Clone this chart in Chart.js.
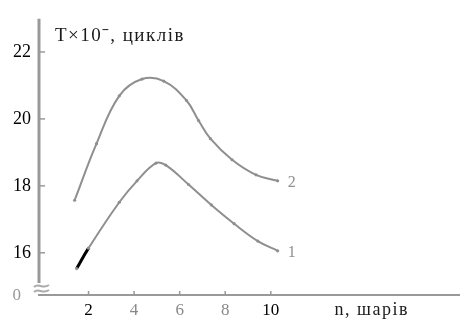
<!DOCTYPE html>
<html>
<head>
<meta charset="utf-8">
<script src="https://cdn.jsdelivr.net/npm/chart.js@4/dist/chart.umd.min.js"></script>
<style>
  html, body { margin: 0; padding: 0; background: #fff; }
  #wrap { width: 463px; height: 320px; }
</style>
</head>
<body>
<div id="wrap"><canvas id="myChart" width="463" height="320"></canvas></div>
<script>
// datos (n = numero de capas, T = ciclos x10^3)
const n1 = [1.48, 2.0, 3.35, 4.13, 4.96, 5.39, 6.39, 7.39, 8.39, 9.43, 10.3];
const t1 = [15.53, 16.14, 17.51, 18.15, 18.68, 18.62, 18.04, 17.43, 16.87, 16.35, 16.06];
const n2 = [1.39, 2.35, 3.35, 4.35, 5.3, 6.3, 6.83, 7.35, 8.3, 9.35, 10.3];
const t2 = [17.57, 19.26, 20.69, 21.19, 21.13, 20.55, 19.95, 19.41, 18.78, 18.33, 18.15];
const xTicks = [2, 4, 6, 8, 10];
const yTicks = [16, 18, 20, 22];
const curveNames = ["1", "2"];
const yTitle = "T\u00d710\u02c9, циклів";
const xTitle = "n, шарів";

const grey = "#8f8f8f";
const serif = "'Liberation Serif', 'DejaVu Serif', serif";

const toPoints = (xs, ys) => xs.map((x, i) => ({ x: x, y: ys[i] }));

// plugin para textos, marcas y el corte del eje
const extras = {
  id: "extras",
  afterDraw(chart) {
    const ctx = chart.ctx;
    const xs = chart.scales.x;
    const ys = chart.scales.y;
    const area = chart.chartArea;
    ctx.save();

    // eje y con corte
    ctx.strokeStyle = "#999";
    ctx.lineWidth = 3;
    ctx.beginPath();
    ctx.moveTo(area.left, area.top);
    ctx.lineTo(area.left, area.bottom - 12);
    ctx.stroke();
    ctx.lineWidth = 2;
    ctx.strokeStyle = "#aaa";
    [area.bottom - 9, area.bottom - 4].forEach(yy => {
      ctx.beginPath();
      ctx.moveTo(area.left - 5, yy + 1);
      ctx.bezierCurveTo(area.left, yy - 4, area.left + 3, yy + 4, area.left + 10, yy - 1);
      ctx.stroke();
    });

    // marcas del eje y
    ctx.lineWidth = 1.5;
    ctx.strokeStyle = "#999";
    yTicks.forEach(v => {
      const py = ys.getPixelForValue(v);
      ctx.beginPath();
      ctx.moveTo(area.left, py);
      ctx.lineTo(area.left + 6, py);
      ctx.stroke();
    });
    // marcas del eje x
    xTicks.forEach(v => {
      const px = xs.getPixelForValue(v);
      ctx.beginPath();
      ctx.moveTo(px, area.bottom);
      ctx.lineTo(px, area.bottom - 4);
      ctx.stroke();
    });

    // "0" del corte
    ctx.fillStyle = "#999";
    ctx.font = "17px " + serif;
    ctx.textAlign = "right";
    ctx.textBaseline = "middle";
    ctx.fillText("0", area.left - 18, area.bottom + 1);

    // titulos de ejes
    ctx.fillStyle = "#1a1a1a";
    ctx.textAlign = "left";
    ctx.letterSpacing = "1.5px";
    ctx.font = "19px " + serif;
    ctx.fillText(yTitle, area.left + 16, 36);
    ctx.font = "18px " + serif;
    ctx.fillText(xTitle, xs.getPixelForValue(12.8), 310);

    // numeros de las curvas
    ctx.letterSpacing = "0px";
    ctx.fillStyle = grey;
    ctx.font = "16px " + serif;
    chart.data.datasets.forEach((ds, i) => {
      const last = ds.data[ds.data.length - 1];
      const px = xs.getPixelForValue(last.x) + 10;
      const py = ys.getPixelForValue(last.y) + 2;
      ctx.fillText(curveNames[i], px, py);
    });
    ctx.restore();
  }
};

const config = {
  type: "line",
  data: {
    datasets: [
      {
        label: curveNames[0],
        data: toPoints(n1, t1),
        borderColor: grey,
        borderWidth: 2,
        pointRadius: 1.6,
        pointBackgroundColor: grey,
        pointBorderWidth: 0,
        tension: 0.4,
        segment: {
          borderColor: c => c.p0DataIndex === 0 ? "#000" : grey,
          borderWidth: c => c.p0DataIndex === 0 ? 3 : 2
        }
      },
      {
        label: curveNames[1],
        data: toPoints(n2, t2),
        borderColor: grey,
        borderWidth: 2,
        pointRadius: 1.6,
        pointBackgroundColor: grey,
        pointBorderWidth: 0,
        tension: 0.4
      }
    ]
  },
  options: {
    responsive: false,
    animation: false,
    layout: { padding: { top: 12, right: 0, left: 0, bottom: 0 } },
    plugins: { legend: { display: false }, tooltip: { enabled: false } },
    scales: {
      x: {
        type: "linear",
        min: -0.174,
        max: 18.26,
        afterBuildTicks: s => { s.ticks = xTicks.map(v => ({ value: v })); },
        afterFit: s => { s.height = 25; },
        grid: { display: false, drawTicks: false },
        border: { display: true, color: "#999", width: 2 },
        ticks: {
          padding: 5,
          font: { family: serif, size: 17 },
          color: c => (c.tick && (c.tick.value === 2 || c.tick.value === 10)) ? "#000" : "#888"
        }
      },
      y: {
        type: "linear",
        min: 14.74,
        max: 22.99,
        afterBuildTicks: s => { s.ticks = yTicks.map(v => ({ value: v })); },
        afterFit: s => { s.width = 39; },
        grid: { display: false, drawTicks: false },
        border: { display: false },
        ticks: {
          padding: 8,
          font: { family: serif, size: 18 },
          color: "#000"
        }
      }
    }
  },
  plugins: [extras]
};

const myChart = new Chart(document.getElementById("myChart"), config);
</script>
</body>
</html>
